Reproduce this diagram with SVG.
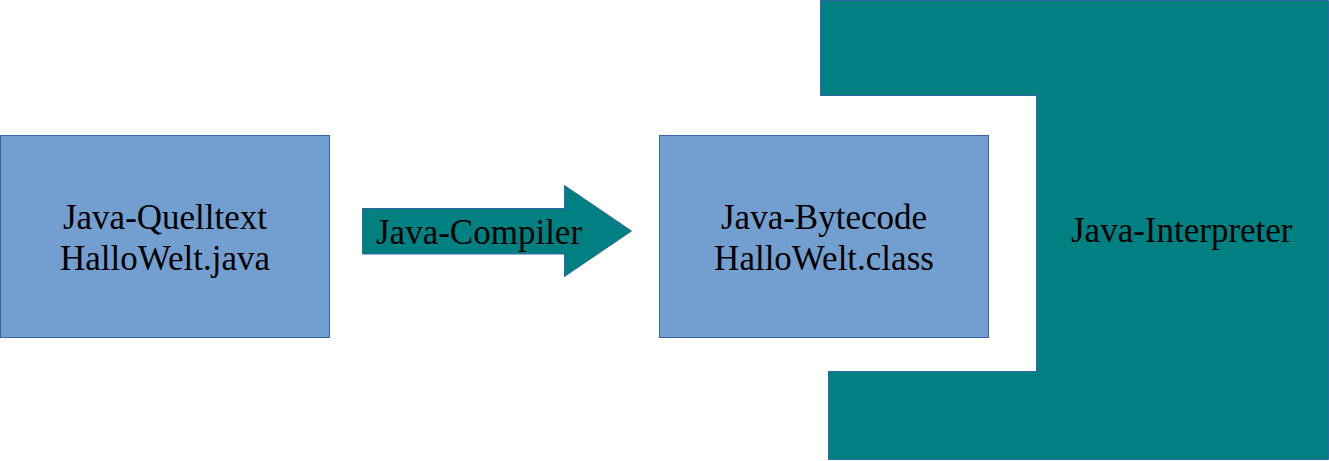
<svg xmlns="http://www.w3.org/2000/svg" width="1329" height="461" viewBox="0 0 1329 461">
<style>
.box{fill:#729fcf;stroke:#3465a4;stroke-width:1}
.teal{fill:#008080;stroke:#3465a4;stroke-width:1}
.t{font-family:"Liberation Serif","Times New Roman",serif;font-size:35px;fill:#000}
</style>
<rect width="1329" height="461" fill="#ffffff"/>
<g id="interpreter">
<path class="teal" d="M820.5,0.5 H1328.5 V459.5 H828.5 V371.5 H1036.5 V95.5 H820.5 Z"/>
<text class="t" x="1071" y="242">Java-Interpreter</text>
</g>
<g id="quelltext">
<rect class="box" x="0.5" y="135.5" width="329" height="202"/>
<text class="t" x="165" y="229" text-anchor="middle">Java-Quelltext</text>
<text class="t" x="165" y="270" text-anchor="middle">HalloWelt.java</text>
</g>
<g id="bytecode">
<rect class="box" x="659.5" y="135.5" width="329" height="202"/>
<text class="t" x="824" y="229" text-anchor="middle">Java-Bytecode</text>
<text class="t" x="824" y="270" text-anchor="middle">HalloWelt.class</text>
</g>
<g id="connectors">
<g id="compiler">
<path class="teal" d="M362.5,208.5 H564.5 V185.5 L631.5,231 L564.5,276.5 V254 H362.5 Z"/>
<text class="t" x="376" y="244">Java-Compiler</text>
</g>
</g>
</svg>
